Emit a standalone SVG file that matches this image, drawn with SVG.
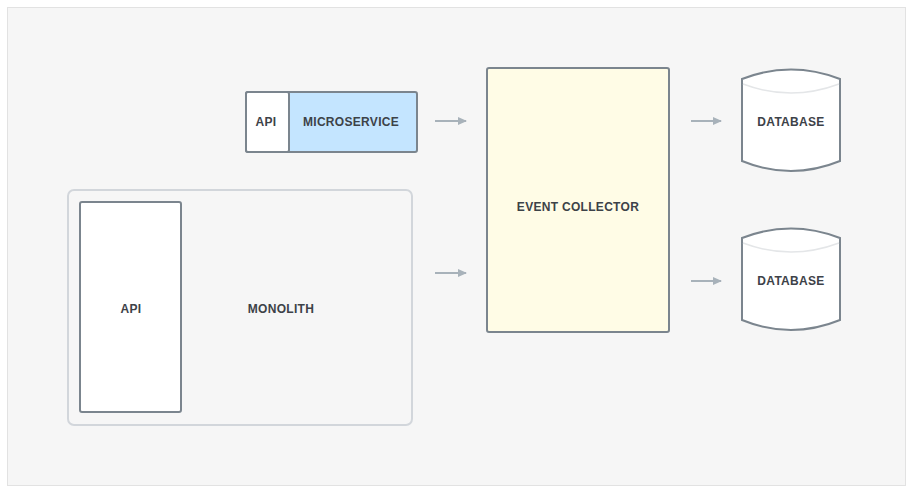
<svg xmlns="http://www.w3.org/2000/svg" width="914" height="495" viewBox="0 0 914 495">
<style>
.lbl{font-family:"Liberation Sans",Arial,sans-serif;font-size:12px;font-weight:bold;fill:#3d4248;text-anchor:middle;dominant-baseline:central;letter-spacing:0.3px}
.box{stroke:#7b858e;stroke-width:2}
.conn{stroke:#a8b2ba;stroke-width:2;fill:none}
</style>
<defs>
<marker id="ah" markerWidth="10" markerHeight="10" refX="8" refY="5" orient="auto" markerUnits="userSpaceOnUse">
<path d="M0,1 L9,5 L0,9 Z" fill="#a8b2ba"/>
</marker>
</defs>
<rect x="0" y="0" width="914" height="495" fill="#ffffff"/>
<rect x="7.5" y="7.5" width="898" height="478" fill="#f6f6f6" stroke="#e2e2e2" stroke-width="1"/>

<g id="microservice">
<rect x="246" y="92" width="171" height="60" rx="2" class="box" fill="#c4e5ff"/>
<rect x="246" y="92" width="43" height="60" rx="2" class="box" fill="#ffffff"/>
<text x="266" y="122" class="lbl">API</text>
<text x="351" y="122" class="lbl">MICROSERVICE</text>
</g>

<g id="monolith">
<rect x="68" y="190" width="344" height="235" rx="6" fill="#f6f6f6" stroke="#d2d6db" stroke-width="2"/>
<text x="281" y="309" class="lbl">MONOLITH</text>
</g>

<g id="monolith-api">
<rect x="80" y="202" width="101" height="210" rx="2" class="box" fill="#ffffff"/>
<text x="131" y="309" class="lbl">API</text>
</g>

<g id="event-collector">
<rect x="487" y="68" width="182" height="264" rx="2" class="box" fill="#fffce6"/>
<text x="578" y="207" class="lbl">EVENT COLLECTOR</text>
</g>

<g id="db1">
<path d="M742,79 Q791,60 840,79 L840,161 Q791,181 742,161 Z" class="box" fill="#ffffff"/>
<path d="M743,84 Q791,102 839,84" stroke="#e4e6e8" stroke-width="1.5" fill="none"/>
<text x="791" y="122" class="lbl">DATABASE</text>
</g>

<g id="db2">
<path d="M742,238 Q791,219 840,238 L840,320 Q791,340 742,320 Z" class="box" fill="#ffffff"/>
<path d="M743,243 Q791,261 839,243" stroke="#e4e6e8" stroke-width="1.5" fill="none"/>
<text x="791" y="281" class="lbl">DATABASE</text>
</g>

<g id="connectors">
<line x1="435" y1="121" x2="466" y2="121" class="conn" marker-end="url(#ah)"/>
<line x1="435" y1="273" x2="466" y2="273" class="conn" marker-end="url(#ah)"/>
<line x1="691" y1="121" x2="721" y2="121" class="conn" marker-end="url(#ah)"/>
<line x1="691" y1="281" x2="721" y2="281" class="conn" marker-end="url(#ah)"/>
</g>
</svg>
